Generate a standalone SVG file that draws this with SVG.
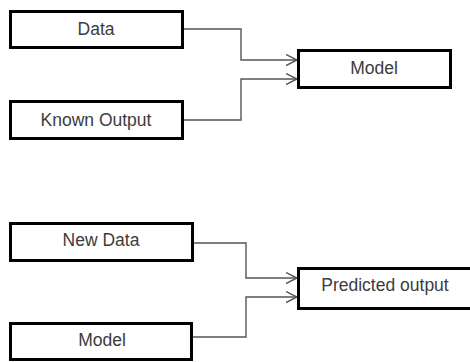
<svg xmlns="http://www.w3.org/2000/svg" width="470" height="362" viewBox="0 0 470 362">
<style>
.box{fill:#fff;stroke:#000;stroke-width:3}
.lbl{font-family:"Liberation Sans",Arial,sans-serif;font-size:17.5px;fill:#3c3c3c;text-anchor:middle}
.conn{fill:none;stroke:#555;stroke-width:1.4;marker-end:url(#arr)}
</style>
<defs>
<marker id="arr" markerUnits="userSpaceOnUse" markerWidth="14" markerHeight="14" refX="11" refY="6" orient="auto">
<path d="M0,0.5 L11,6 L0,11.5" fill="none" stroke="#555" stroke-width="1.4"/>
</marker>
</defs>
<rect width="470" height="362" fill="#fff"/>
<g id="connectors">
<path class="conn" d="M184,29 H241 V60 H297"/>
<path class="conn" d="M184,120 H241 V79 H297"/>
<path class="conn" d="M194,243 H246 V278 H297"/>
<path class="conn" d="M193,337 H246 V297 H297"/>
</g>
<g id="data"><rect class="box" x="10.5" y="11.5" width="172" height="36"/><text class="lbl" x="96" y="35">Data</text></g>
<g id="known-output"><rect class="box" x="10.5" y="101.5" width="172" height="37"/><text class="lbl" x="96" y="126">Known Output</text></g>
<g id="model-top"><rect class="box" x="298.5" y="50.5" width="152" height="37"/><text class="lbl" x="374" y="74">Model</text></g>
<g id="new-data"><rect class="box" x="10.5" y="223.5" width="182" height="37"/><text class="lbl" x="101" y="246">New Data</text></g>
<g id="model-bottom"><rect class="box" x="10.5" y="323.5" width="181" height="36"/><text class="lbl" x="102" y="346">Model</text></g>
<g id="predicted-output"><rect class="box" x="298.5" y="268.5" width="180" height="40"/><text class="lbl" x="385" y="291">Predicted output</text></g>
</svg>
